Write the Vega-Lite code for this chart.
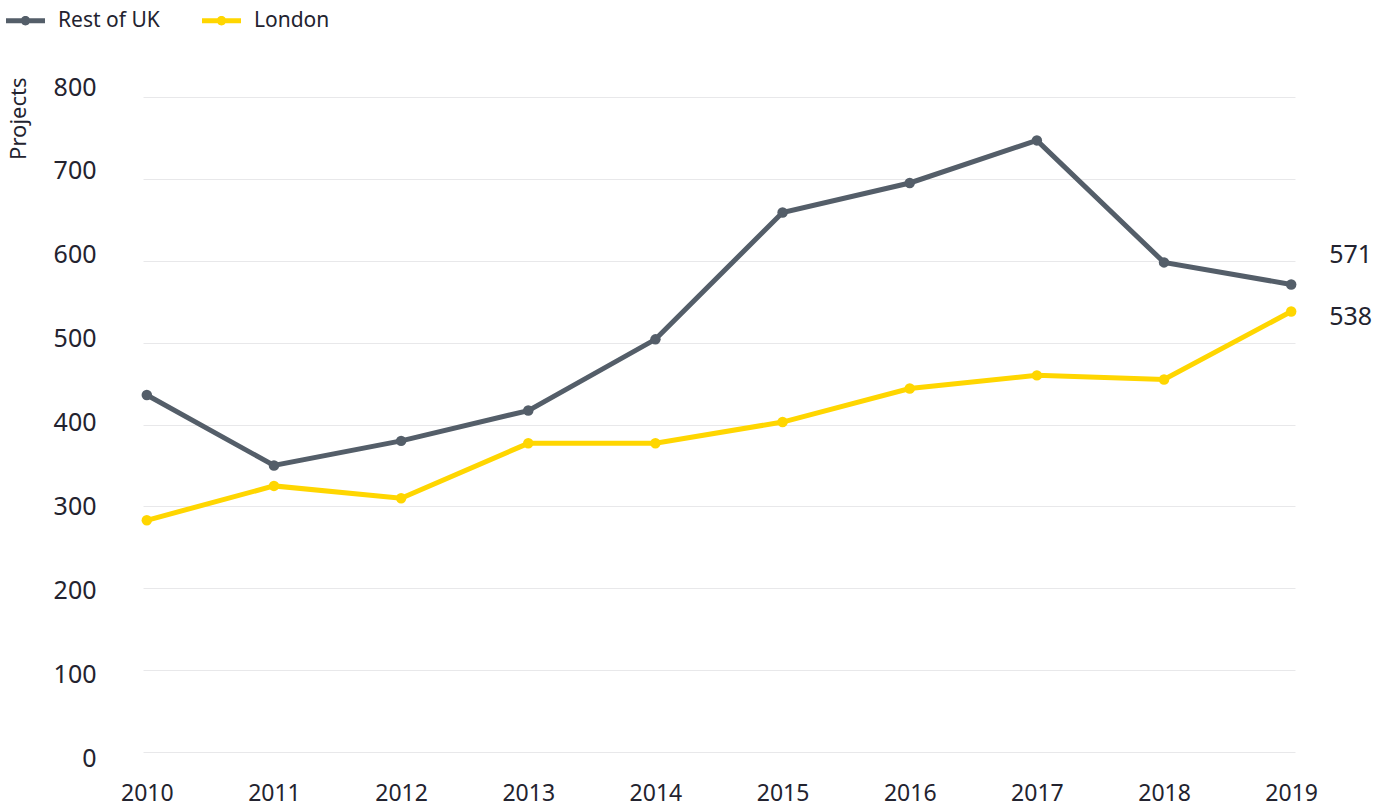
{
  "$schema": "https://vega.github.io/schema/vega-lite/v6.json",
  "width": 1152,
  "height": 655,
  "autosize": {"type": "none"},
  "padding": {"left": 143, "top": 97, "right": 99, "bottom": 58},
  "background": "white",
  "config": {
    "view": {"stroke": null},
    "font": "Noto Sans",
    "text": {"font": "Noto Sans", "color": "#23232F"}
  },
  "data": {
    "values": [
      {"year": "2010", "series": "Rest of UK", "value": 436},
      {"year": "2011", "series": "Rest of UK", "value": 350},
      {"year": "2012", "series": "Rest of UK", "value": 380},
      {"year": "2013", "series": "Rest of UK", "value": 417},
      {"year": "2014", "series": "Rest of UK", "value": 504},
      {"year": "2015", "series": "Rest of UK", "value": 659},
      {"year": "2016", "series": "Rest of UK", "value": 695},
      {"year": "2017", "series": "Rest of UK", "value": 747},
      {"year": "2018", "series": "Rest of UK", "value": 598},
      {"year": "2019", "series": "Rest of UK", "value": 571},
      {"year": "2010", "series": "London", "value": 283},
      {"year": "2011", "series": "London", "value": 325},
      {"year": "2012", "series": "London", "value": 310},
      {"year": "2013", "series": "London", "value": 377},
      {"year": "2014", "series": "London", "value": 377},
      {"year": "2015", "series": "London", "value": 403},
      {"year": "2016", "series": "London", "value": 444},
      {"year": "2017", "series": "London", "value": 460},
      {"year": "2018", "series": "London", "value": 455},
      {"year": "2019", "series": "London", "value": 538}
    ]
  },
  "encoding": {
    "x": {
      "field": "year",
      "type": "ordinal",
      "scale": {"type": "point", "padding": 0.03},
      "axis": {
        "title": null,
        "labelAngle": 0,
        "domain": false,
        "ticks": false,
        "tickSize": 0,
        "labelPadding": 30,
        "labelFontSize": 23,
        "labelColor": "#23232F",
        "labelFont": "Noto Sans"
      }
    },
    "y": {
      "field": "value",
      "type": "quantitative",
      "scale": {"domain": [0, 800], "nice": false},
      "axis": {
        "values": [0, 100, 200, 300, 400, 500, 600, 700, 800],
        "title": "Projects",
        "titleFont": "Noto Sans",
        "titleFontSize": 22,
        "titleFontWeight": "normal",
        "titleColor": "#23232F",
        "titleAngle": 270,
        "titleAlign": "right",
        "titleBaseline": "middle",
        "titleX": -125,
        "titleY": -20,
        "domain": false,
        "ticks": false,
        "tickSize": 0,
        "labelPadding": 47,
        "labelFontSize": 25,
        "labelColor": "#23232F",
        "labelFont": "Noto Sans",
        "labelBaseline": "middle",
        "labelOffset": {"expr": "6 - datum.value * 0.02"},
        "gridColor": "#E8E8EA",
        "gridWidth": 1
      }
    }
  },
  "layer": [
    {
      "mark": {"type": "line", "strokeWidth": 5, "point": {"filled": true, "size": 110}},
      "encoding": {
        "color": {
          "field": "series",
          "type": "nominal",
          "scale": {"domain": ["Rest of UK", "London"], "range": ["#545E69", "#FFD600"]},
          "legend": {
            "title": null,
            "orient": "none",
            "direction": "horizontal",
            "legendX": -137,
            "legendY": -96,
            "symbolType": "M-1,-0.13H1V0.13H-1Z M-0.24,0 A0.24,0.24 0 1,1 0.24,0 A0.24,0.24 0 1,1 -0.24,0Z",
            "symbolSize": 1520,
            "symbolStrokeWidth": 0,
            "labelFontSize": 21,
            "labelFont": "Noto Sans",
            "labelColor": "#23232F",
            "labelOffset": 13,
            "columnPadding": 42,
            "padding": 0,
            "encode": {
              "symbols": {
                "update": {
                  "size": {"value": 1520},
                  "shape": {"value": "M-1,-0.13H1V0.13H-1Z M-0.24,0 A0.24,0.24 0 1,1 0.24,0 A0.24,0.24 0 1,1 -0.24,0Z"},
                  "fill": {"scale": "color", "field": "value"},
                  "stroke": {"value": "transparent"},
                  "strokeWidth": {"value": 0},
                  "opacity": {"value": 1}
                }
              }
            }
          }
        }
      }
    },
    {
      "transform": [{"filter": "datum.year == '2019' && datum.series == 'Rest of UK'"}],
      "mark": {"type": "text", "align": "left", "baseline": "middle", "dx": 38, "dy": -29, "fontSize": 25},
      "encoding": {"text": {"field": "value", "type": "quantitative"}}
    },
    {
      "transform": [{"filter": "datum.year == '2019' && datum.series == 'London'"}],
      "mark": {"type": "text", "align": "left", "baseline": "middle", "dx": 38, "dy": 5, "fontSize": 25},
      "encoding": {"text": {"field": "value", "type": "quantitative"}}
    }
  ]
}
